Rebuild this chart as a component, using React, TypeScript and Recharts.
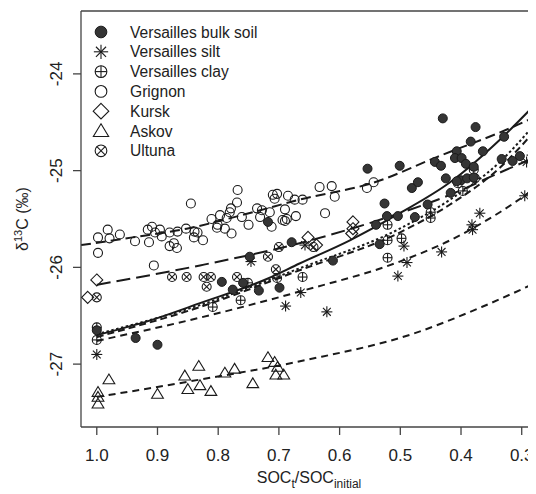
import React from 'react';
import { ComposedChart, Scatter, Line, XAxis, YAxis, ReferenceLine, Legend, Label } from 'recharts';

const FONT = '"Liberation Sans", Arial, Helvetica, sans-serif';
const INK = '#1a1a1a';

// points: [SOCt/SOCinitial, d13C]
const bulkSoil = [
  [1.0, -26.65], [0.936, -26.73], [0.9, -26.8], [0.794, -26.15], [0.776, -26.23], [0.759, -26.16],
  [0.748, -25.89], [0.733, -26.24], [0.718, -25.53], [0.699, -26.21], [0.679, -25.74], [0.611, -25.93],
  [0.534, -25.76], [0.554, -24.98], [0.501, -24.95], [0.481, -25.18], [0.471, -25.12], [0.526, -25.34],
  [0.522, -25.47], [0.504, -25.47], [0.476, -25.48], [0.54, -25.56], [0.455, -25.35], [0.43, -24.46],
  [0.376, -24.55], [0.384, -24.7], [0.407, -24.8], [0.443, -24.91], [0.433, -24.95], [0.41, -24.87],
  [0.399, -24.87], [0.392, -24.93], [0.364, -24.8], [0.379, -24.96], [0.329, -24.65], [0.333, -24.88],
  [0.315, -24.9], [0.303, -24.85], [0.4, -25.1], [0.39, -25.08], [0.425, -25.08], [0.379, -25.07],
  [0.407, -25.11], [0.417, -25.23],
];
const silt = [
  [1.0, -26.9], [0.746, -25.94], [0.689, -26.4], [0.664, -26.26], [0.657, -25.77], [0.621, -26.46],
  [0.504, -26.09], [0.494, -25.78], [0.489, -25.95], [0.432, -25.84], [0.382, -25.56], [0.381, -25.61],
  [0.369, -25.44], [0.295, -25.26], [0.292, -24.91], [0.283, -24.84],
];
const clay = [
  [1.0, -26.62], [1.0, -26.75], [0.809, -26.41], [0.763, -26.34], [0.751, -26.16], [0.703, -26.11],
  [0.661, -26.1], [0.521, -25.56], [0.521, -25.72], [0.498, -25.7], [0.521, -25.9], [0.45, -25.43],
  [0.45, -25.49], [0.405, -25.13], [0.397, -25.21], [0.379, -24.99], [0.377, -25.08],
];
const grignon = [
  [0.998, -25.69], [0.982, -25.61], [0.979, -25.7], [0.962, -25.66], [0.998, -25.85], [0.937, -25.73],
  [0.916, -25.61], [0.909, -25.58], [0.914, -25.74], [0.904, -25.64], [0.896, -25.61], [0.893, -25.68],
  [0.88, -25.64], [0.867, -25.63], [0.853, -25.6], [0.839, -25.63], [0.834, -25.64], [0.84, -25.69],
  [0.825, -25.72], [0.873, -25.75], [0.88, -25.78], [0.868, -25.8], [0.906, -25.98], [0.845, -25.34],
  [0.768, -25.2], [0.769, -25.33], [0.779, -25.39], [0.781, -25.43], [0.797, -25.46], [0.811, -25.5],
  [0.801, -25.56], [0.786, -25.49], [0.802, -25.59], [0.789, -25.6], [0.778, -25.65], [0.761, -25.48],
  [0.75, -25.56], [0.736, -25.39], [0.728, -25.41], [0.715, -25.43], [0.731, -25.48], [0.712, -25.58],
  [0.71, -25.25], [0.703, -25.24], [0.707, -25.29], [0.694, -25.51], [0.69, -25.52], [0.687, -25.5],
  [0.685, -25.26], [0.674, -25.3], [0.661, -25.3], [0.69, -25.4], [0.672, -25.47], [0.633, -25.17],
  [0.613, -25.16], [0.608, -25.27], [0.555, -25.18], [0.544, -25.12], [0.624, -25.44],
];
const kursk = [
  [1.0, -26.13], [1.015, -26.31], [0.652, -25.69], [0.638, -25.77], [0.578, -25.53], [0.578, -25.6], [0.58, -25.65],
];
const askov = [
  [0.998, -27.29], [0.998, -27.34], [0.998, -27.41], [0.98, -27.16], [0.9, -27.31], [0.855, -27.12],
  [0.832, -27.02], [0.85, -27.26], [0.83, -27.22], [0.812, -27.28], [0.789, -27.09], [0.773, -27.05],
  [0.743, -27.2], [0.718, -26.93], [0.707, -26.98], [0.702, -27.03], [0.705, -27.11], [0.692, -27.11],
];
const ultuna = [
  [1.0, -26.31], [0.876, -26.1], [0.852, -26.1], [0.824, -26.1], [0.812, -26.1], [0.819, -26.2],
  [0.769, -26.1], [0.718, -25.89], [0.705, -26.02], [0.7, -25.79], [0.643, -25.79],
];

// fitted curves, read at a few x positions
const bulkFit = [[1.0, -26.7], [0.913, -26.55], [0.83, -26.37], [0.72, -26.12], [0.666, -25.96], [0.583, -25.72], [0.501, -25.44], [0.418, -25.12], [0.336, -24.68], [0.277, -24.31]];
const dottedFit = [[1.0, -26.69], [0.83, -26.39], [0.666, -26.01], [0.501, -25.6], [0.418, -25.3], [0.336, -24.91], [0.277, -24.51]];
const clayFit = [[1.0, -26.72], [0.83, -26.41], [0.666, -26.03], [0.501, -25.64], [0.418, -25.35], [0.336, -24.97], [0.277, -24.58]];
const kurskFit = [[1.0, -26.18], [0.83, -25.98], [0.666, -25.75], [0.501, -25.44], [0.418, -25.25], [0.336, -25.02], [0.277, -24.86]];
const siltFit = [[1.0, -26.76], [0.83, -26.52], [0.666, -26.25], [0.501, -25.94], [0.418, -25.72], [0.336, -25.43], [0.277, -25.18]];
const grignonFit = [[1.026, -25.77], [0.941, -25.69], [0.852, -25.6], [0.743, -25.43], [0.666, -25.3], [0.542, -25.12], [0.44, -24.86], [0.308, -24.53], [0.277, -24.44]];
const askovFit = [[1.0, -27.34], [0.83, -27.16], [0.657, -26.96], [0.476, -26.68], [0.366, -26.41], [0.277, -26.16]];

const xTicks = [1.0, 0.9, 0.8, 0.7, 0.6, 0.5, 0.4, 0.3];
const yTicks = [-27, -26, -25, -24];
const legendLabels = ['Versailles bulk soil', 'Versailles silt', 'Versailles clay', 'Grignon', 'Kursk', 'Askov', 'Ultuna'];
const legendKinds = ['bulk', 'silt', 'clay', 'grignon', 'kursk', 'askov', 'ultuna'];

const toXY = (pts: number[][]) => pts.map(([x, y]) => ({ x, y }));

function Marker({ kind, cx, cy, s = 1 }: { kind: string; cx: number; cy: number; s?: number }) {
  const r = 4.5 * s;
  const sw = 1.1;
  if (kind === 'bulk') return <circle cx={cx} cy={cy} r={r} fill="#353535" stroke={INK} strokeWidth={1} />;
  if (kind === 'grignon') return <circle cx={cx} cy={cy} r={r} fill="none" stroke={INK} strokeWidth={sw} />;
  if (kind === 'silt') {
    const a = 5.5 * s, d = a * 0.707;
    return (
      <g stroke={INK} strokeWidth={sw}>
        <line x1={cx - a} y1={cy} x2={cx + a} y2={cy} />
        <line x1={cx} y1={cy - a} x2={cx} y2={cy + a} />
        <line x1={cx - d} y1={cy - d} x2={cx + d} y2={cy + d} />
        <line x1={cx - d} y1={cy + d} x2={cx + d} y2={cy - d} />
      </g>
    );
  }
  if (kind === 'clay') {
    return (
      <g stroke={INK} strokeWidth={sw} fill="none">
        <circle cx={cx} cy={cy} r={r} />
        <line x1={cx - r} y1={cy} x2={cx + r} y2={cy} />
        <line x1={cx} y1={cy - r} x2={cx} y2={cy + r} />
      </g>
    );
  }
  if (kind === 'ultuna') {
    const d = r * 0.707;
    return (
      <g stroke={INK} strokeWidth={sw} fill="none">
        <circle cx={cx} cy={cy} r={r} />
        <line x1={cx - d} y1={cy - d} x2={cx + d} y2={cy + d} />
        <line x1={cx - d} y1={cy + d} x2={cx + d} y2={cy - d} />
      </g>
    );
  }
  if (kind === 'kursk') {
    const a = 6 * s;
    return <path d={`M${cx},${cy - a}L${cx + a},${cy}L${cx},${cy + a}L${cx - a},${cy}Z`} fill="none" stroke={INK} strokeWidth={sw} />;
  }
  // askov triangle
  const h = 5.6 * s;
  return <path d={`M${cx},${cy - h}L${cx + h * 1.05},${cy + h * 0.75}L${cx - h * 1.05},${cy + h * 0.75}Z`} fill="none" stroke={INK} strokeWidth={sw} />;
}

const shapeOf = (kind: string) => (p: any) => <Marker kind={kind} cx={p.cx} cy={p.cy} />;

const XTick = ({ x, payload }: any) => (
  <text x={x} y={461} textAnchor="middle" fontSize={17} fontFamily={FONT} fill="#222">
    {Number(payload.value).toFixed(1)}
  </text>
);

const YTick = ({ y, payload }: any) => (
  <text x={62} y={y} transform={`rotate(-90, 62, ${y})`} textAnchor="middle" fontSize={17} fontFamily={FONT} fill="#222">
    {payload.value}
  </text>
);

const LegendBox = () => (
  <svg width={300} height={165}>
    {legendLabels.map((label, i) => {
      const cy = 32 + i * 19.8;
      return (
        <g key={label}>
          <Marker kind={legendKinds[i]} cx={101} cy={cy} s={1.3} />
          <text x={130} y={cy + 5.5} fontSize={15.6} fontFamily={FONT} fill="#222">{label}</text>
        </g>
      );
    })}
  </svg>
);

export default function App() {
  const fits = [
    { data: grignonFit, dash: '10 5' },
    { data: kurskFit, dash: '14 6' },
    { data: siltFit, dash: '7 5' },
    { data: askovFit, dash: '7 5' },
    { data: clayFit, dash: '7 4' },
    { data: dottedFit, dash: '2.5 2.5' },
    { data: bulkFit, dash: undefined },
  ];
  return (
    <div style={{ margin: '-8px 0 0 -8px', width: 536, height: 494, overflow: 'hidden', background: '#fff' }}>
      <ComposedChart width={560} height={494} margin={{ top: 11, right: 14, left: 0, bottom: 0 }}>
        <XAxis
          dataKey="x"
          type="number"
          domain={[0.26, 1.026]}
          reversed
          allowDataOverflow
          ticks={xTicks}
          tick={<XTick />}
          tickSize={8}
          height={67}
          stroke="#444"
          strokeWidth={1.3}
        >
          <Label
            content={() => (
              <text x={309} y={483} textAnchor="middle" fontSize={16} fontFamily={FONT} fill="#222">
                SOC<tspan dy={5} fontSize={12}>t</tspan>
                <tspan dy={-5}>/SOC</tspan>
                <tspan dy={5} fontSize={12}>initial</tspan>
              </text>
            )}
          />
        </XAxis>
        <YAxis
          dataKey="y"
          type="number"
          domain={[-27.65, -23.35]}
          allowDataOverflow
          ticks={yTicks}
          tick={<YTick />}
          tickSize={8}
          width={81}
          stroke="#444"
          strokeWidth={1.3}
        >
          <Label
            content={() => (
              <text x={28} y={219} transform="rotate(-90, 28, 219)" textAnchor="middle" fontSize={16} fontFamily={FONT} fill="#222">
                δ<tspan dy={-6} fontSize={11}>13</tspan>
                <tspan dy={6}>C (‰)</tspan>
              </text>
            )}
          />
        </YAxis>
        <ReferenceLine y={-23.35} stroke="#444" strokeWidth={1.3} ifOverflow="visible" />
        <Legend layout="vertical" align="center" verticalAlign="middle" wrapperStyle={{ top: 0, left: 0, width: 300, height: 165 }} content={<LegendBox />} />

        <Scatter data={toXY(grignon)} dataKey="y" shape={shapeOf('grignon')} isAnimationActive={false} />
        <Scatter data={toXY(kursk)} dataKey="y" shape={shapeOf('kursk')} isAnimationActive={false} />
        <Scatter data={toXY(ultuna)} dataKey="y" shape={shapeOf('ultuna')} isAnimationActive={false} />
        <Scatter data={toXY(askov)} dataKey="y" shape={shapeOf('askov')} isAnimationActive={false} />
        <Scatter data={toXY(clay)} dataKey="y" shape={shapeOf('clay')} isAnimationActive={false} />
        <Scatter data={toXY(silt)} dataKey="y" shape={shapeOf('silt')} isAnimationActive={false} />
        <Scatter data={toXY(bulkSoil)} dataKey="y" shape={shapeOf('bulk')} isAnimationActive={false} />

        {fits.map((f, i) => (
          <Line
            key={i}
            data={toXY(f.data)}
            dataKey="y"
            type="monotone"
            stroke={INK}
            strokeWidth={2}
            strokeDasharray={f.dash}
            dot={false}
            activeDot={false}
            legendType="none"
            isAnimationActive={false}
          />
        ))}
      </ComposedChart>
    </div>
  );
}
